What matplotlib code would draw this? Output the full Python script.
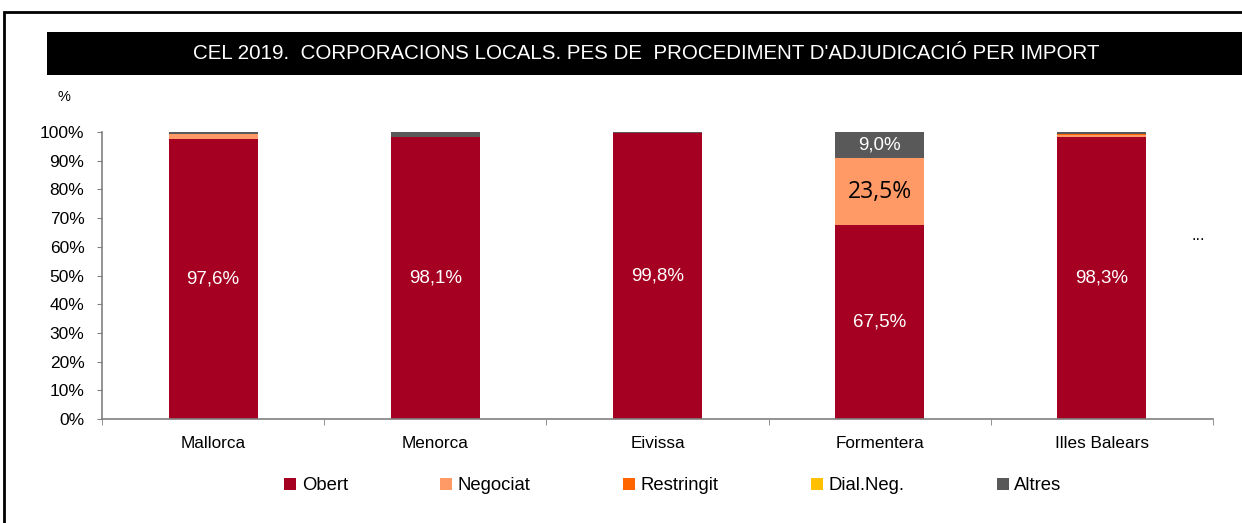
import matplotlib
matplotlib.use("Agg")
import matplotlib.pyplot as plt
from matplotlib.patches import Rectangle
import numpy as np

categories = ["Mallorca", "Menorca", "Eivissa", "Formentera", "Illes Balears"]
series_names = ["Obert", "Negociat", "Restringit", "Dial.Neg.", "Altres"]
obert = [97.6, 98.1, 99.8, 67.5, 98.3]
negociat = [1.6, 0.1, 0.0, 23.5, 0.6]
restringit = [0.2, 0.0, 0.0, 0.0, 0.5]
dialneg = [0.0, 0.0, 0.0, 0.0, 0.0]
altres = [0.6, 1.8, 0.2, 9.0, 0.6]
colors = ["#A50021", "#FF9966", "#FF6600", "#FFC000", "#595959"]
yticks = [0, 10, 20, 30, 40, 50, 60, 70, 80, 90, 100]

plt.rcParams['font.family'] = ['Liberation Sans', 'DejaVu Sans']

W, H = 1242, 523
fig = plt.figure(figsize=(W/100, H/100), dpi=100)

# outer border
fig.patches.append(Rectangle((4/W, -0.01), 1.05, 1 - 12/H + 0.01, transform=fig.transFigure,
                             fill=False, edgecolor="black", linewidth=2, zorder=0))
# title bar
fig.patches.append(Rectangle((47/W, 1 - 75/H), 1.0, 43/H, transform=fig.transFigure,
                             facecolor="black", edgecolor="none", zorder=1))
fig.text(646/W, 1 - 53.5/H, "CEL 2019.  CORPORACIONS LOCALS. PES DE  PROCEDIMENT D'ADJUDICACIÓ PER IMPORT",
         color="white", fontsize=14.8, ha="center", va="center")
fig.text(64/W, 1 - 97/H, "%", fontsize=10.5, ha="center", va="center")
fig.text(1198/W, 1 - 236/H, "...", fontsize=12, ha="center", va="center")

ax = fig.add_axes([102/W, 1 - 419/H, 1111/W, (419 - 132)/H])
x = np.arange(len(categories))
data = [obert, negociat, restringit, dialneg, altres]
bottom = np.zeros(len(categories))
bars = []
for name, vals, c in zip(series_names, data, colors):
    b = ax.bar(x, vals, 0.4, bottom=bottom, color=c, label=name, zorder=2)
    bars.append(b)
    bottom += np.array(vals)

for i, v in enumerate(obert):
    ax.text(x[i], v / 2, f"{v:.1f}%".replace(".", ","), color="white", fontsize=13.5,
            ha="center", va="center", zorder=3)
# Formentera extra labels
i = 3
ax.text(x[i], obert[i] + negociat[i] / 2, f"{negociat[i]:.1f}%".replace(".", ","),
        color="black", fontsize=16.5, ha="center", va="center", zorder=3, family="Open Sans")
top_start = obert[i] + negociat[i] + restringit[i] + dialneg[i]
ax.text(x[i], top_start + altres[i] / 2, f"{altres[i]:.1f}%".replace(".", ","),
        color="white", fontsize=13.5, ha="center", va="center", zorder=3)

ax.set_xlim(-0.5, len(categories) - 0.5)
ax.set_ylim(0, 100)
ax.set_yticks(yticks)
ax.set_yticklabels([f"{t}%" for t in yticks], fontsize=12.5)
ax.set_xticks(x)
ax.set_xticklabels(categories, fontsize=12.3)
ax.set_xticks(np.arange(len(categories) + 1) - 0.5, minor=True)
ax.tick_params(axis="x", which="major", length=0, pad=12)
ax.tick_params(axis="x", which="minor", length=4, color="#808080", direction="out")
ax.tick_params(axis="y", length=3.6, color="#808080", pad=9)
for s in ["top", "right"]:
    ax.spines[s].set_visible(False)
for s in ["left", "bottom"]:
    ax.spines[s].set_color("#808080")
    ax.spines[s].set_linewidth(1.2)
ax.set_facecolor("none")

handles = [b[0] for b in bars]
fig.legend(handles, series_names, loc="center", bbox_to_anchor=(673/W, 1 - 486/H), ncol=5,
           frameon=False, fontsize=13.3, handlelength=0.65, handleheight=0.65,
           handletextpad=0.3, columnspacing=5.0)

fig.savefig("out.png", dpi=100)
